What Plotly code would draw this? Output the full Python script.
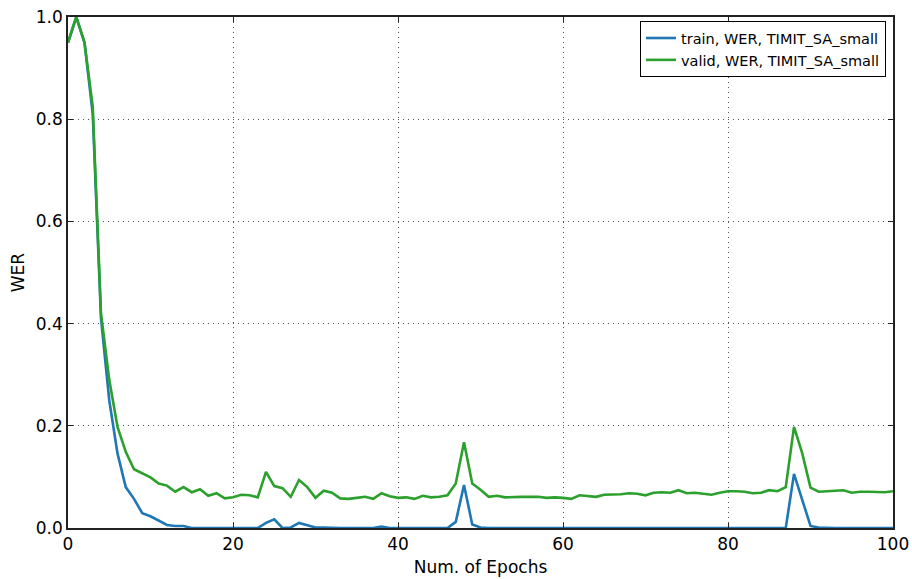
import plotly.graph_objects as go

epochs = list(range(101))

train_wer = [
    0.950, 1.000, 0.950, 0.810, 0.410, 0.250, 0.146, 0.080, 0.057, 0.029,
    0.023, 0.014, 0.006, 0.004, 0.004, 0.000, 0.000, 0.000, 0.000, 0.000,
    0.000, 0.000, 0.000, 0.000, 0.010, 0.017, 0.000, 0.001, 0.010, 0.006,
    0.001, 0.001, 0.000, 0.000, 0.000, 0.000, 0.000, 0.000, 0.003, 0.000,
    0.000, 0.000, 0.000, 0.000, 0.000, 0.000, 0.000, 0.012, 0.084, 0.007,
    0.001, 0.000, 0.000, 0.000, 0.000, 0.000, 0.000, 0.000, 0.000, 0.000,
    0.000, 0.000, 0.000, 0.000, 0.000, 0.000, 0.000, 0.000, 0.000, 0.000,
    0.000, 0.000, 0.000, 0.000, 0.000, 0.000, 0.000, 0.000, 0.000, 0.000,
    0.000, 0.000, 0.000, 0.000, 0.000, 0.000, 0.000, 0.000, 0.106, 0.055,
    0.004, 0.001, 0.000, 0.000, 0.000, 0.000, 0.000, 0.000, 0.000, 0.000,
    0.000,
]

valid_wer = [
    0.950, 1.000, 0.950, 0.824, 0.420, 0.290, 0.198, 0.149, 0.115, 0.107,
    0.099, 0.087, 0.083, 0.071, 0.080, 0.070, 0.076, 0.063, 0.068, 0.058,
    0.060, 0.065, 0.064, 0.060, 0.110, 0.082, 0.078, 0.061, 0.094, 0.080,
    0.059, 0.073, 0.069, 0.058, 0.057, 0.059, 0.061, 0.057, 0.068, 0.062,
    0.059, 0.060, 0.057, 0.063, 0.060, 0.061, 0.064, 0.087, 0.168, 0.087,
    0.075, 0.061, 0.063, 0.060, 0.061, 0.061, 0.061, 0.061, 0.059, 0.060,
    0.059, 0.057, 0.064, 0.063, 0.061, 0.065, 0.065, 0.066, 0.068, 0.067,
    0.064, 0.069, 0.070, 0.069, 0.074, 0.068, 0.069, 0.067, 0.065, 0.069,
    0.072, 0.072, 0.071, 0.068, 0.069, 0.074, 0.072, 0.080, 0.198, 0.146,
    0.079, 0.071, 0.072, 0.072, 0.074, 0.069, 0.071, 0.071, 0.071, 0.070,
    0.072,
]

x_ticks = [0, 20, 40, 60, 80, 100]
y_ticks = [0.0, 0.2, 0.4, 0.6, 0.8, 1.0]

FONT = "DejaVu Sans, Liberation Sans, sans-serif"

fig = go.Figure()
fig.add_trace(go.Scatter(
    x=epochs, y=train_wer, mode="lines",
    name="train, WER, TIMIT_SA_small",
    line=dict(color="#1f77b4", width=2.6),
))
fig.add_trace(go.Scatter(
    x=epochs, y=valid_wer, mode="lines",
    name="valid, WER, TIMIT_SA_small",
    line=dict(color="#2ca02c", width=2.6),
))

axis_common = dict(
    showline=True, linecolor="#222222", linewidth=1.5, mirror="ticks",
    ticks="inside", ticklen=5, tickwidth=1, tickcolor="#222222",
    showgrid=True, gridcolor="#555555", griddash="1px,4px", gridwidth=1,
    zeroline=False, automargin=False, ticklabeloverflow="allow",
    tickfont=dict(family=FONT, size=17, color="black"),
)

fig.update_layout(
    width=912, height=579,
    margin=dict(l=68, r=19, t=17, b=51),
    paper_bgcolor="white", plot_bgcolor="white",
    font=dict(family=FONT, size=17, color="black"),
    xaxis=dict(
        range=[0, 100], tickvals=x_ticks,
        title=dict(text="Num. of Epochs", font=dict(family=FONT, size=17), standoff=8),
        **axis_common,
    ),
    yaxis=dict(
        range=[0, 1.0], tickvals=y_ticks, tickformat=".1f",
        title=dict(text="WER", font=dict(family=FONT, size=17), standoff=7),
        **axis_common,
    ),
    legend=dict(
        x=0.9915, y=0.992, xanchor="right", yanchor="top",
        bgcolor="white", bordercolor="black", borderwidth=1,
        font=dict(family=FONT, size=14.5, color="black"),
    ),
    showlegend=True,
)

fig.write_html(
    "out.html",
    config={"displayModeBar": False},
    post_script="document.body.style.margin='0';document.body.style.overflow='hidden';",
)
